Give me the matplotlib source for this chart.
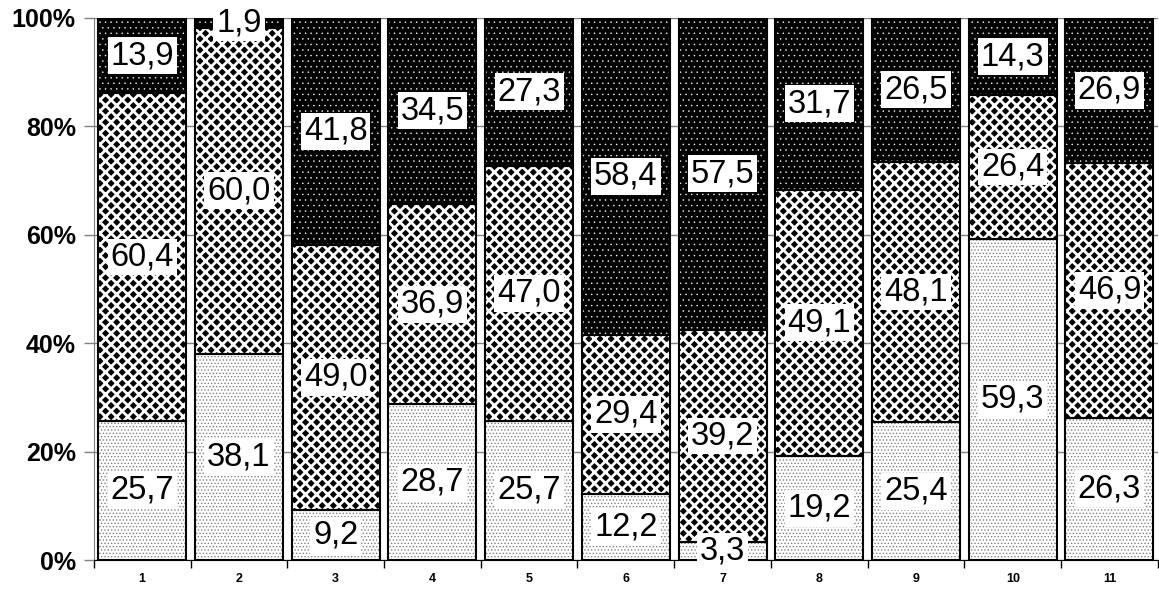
import numpy as np
import matplotlib.pyplot as plt

plt.rcParams['font.family'] = ['Liberation Sans', 'DejaVu Sans']

categories = ['1', '2', '3', '4', '5', '6', '7', '8', '9', '10', '11']
bottom_vals = [25.7, 38.1, 9.2, 28.7, 25.7, 12.2, 3.3, 19.2, 25.4, 59.3, 26.3]
middle_vals = [60.4, 60.0, 49.0, 36.9, 47.0, 29.4, 39.2, 49.1, 48.1, 26.4, 46.9]
top_vals = [13.9, 1.9, 41.8, 34.5, 27.3, 58.4, 57.5, 31.7, 26.5, 14.3, 26.9]

fig = plt.figure(figsize=(11.59, 5.94), dpi=100)
ax = fig.add_axes([0.081, 0.057, 0.918, 0.913])

x = np.arange(len(categories))
w = 0.91
series = [bottom_vals, middle_vals, top_vals]
# hatch colour = edgecolor, outline drawn separately
styles = [
    (dict(facecolor='white', edgecolor='#808080', hatch='.....'), 0.6),
    (dict(facecolor='black', edgecolor='white', hatch='xxx'), 2.0),
    (dict(facecolor='black', edgecolor='white', hatch='...'), 0.3),
]
base = np.zeros(len(categories))
for vals, (st, hlw) in zip(series, styles):
    vals = np.array(vals)
    with plt.rc_context({'hatch.linewidth': hlw}):
        ax.bar(x, vals, w, bottom=base, linewidth=0, zorder=2, **st)
    ax.bar(x, vals, w, bottom=base, fill=False, edgecolor='black', linewidth=1.5, zorder=3)
    for xi, b, v in zip(x, base, vals):
        ax.text(xi, b + v / 2, ('%.1f' % v).replace('.', ','), ha='center', va='center',
                fontsize=23.5, zorder=4,
                bbox=dict(facecolor='white', edgecolor='none', pad=2))
    base = base + vals

ax.set_xlim(-0.5, len(categories) - 0.5)
ax.set_ylim(0, 100)
ax.set_yticks(range(0, 101, 20))
ax.set_yticklabels(['%d%%' % v for v in range(0, 101, 20)], fontsize=18, fontweight='bold')
ax.set_xticks(x)
ax.set_xticklabels(categories, fontsize=9, fontweight='bold')
ax.set_xticks(np.arange(-0.5, len(categories), 1), minor=True)
ax.tick_params(axis='x', which='major', length=0, pad=9)
ax.tick_params(axis='x', which='minor', length=6, width=1)
ax.tick_params(axis='y', length=7, width=1, color='gray', pad=6)
ax.grid(axis='y', color='gray', linewidth=1, zorder=0)
ax.set_axisbelow(True)
for s in ['top', 'right']:
    ax.spines[s].set_visible(False)
ax.spines['left'].set_color('gray')
ax.spines['bottom'].set_color('black')

fig.savefig('out.png', dpi=100)
